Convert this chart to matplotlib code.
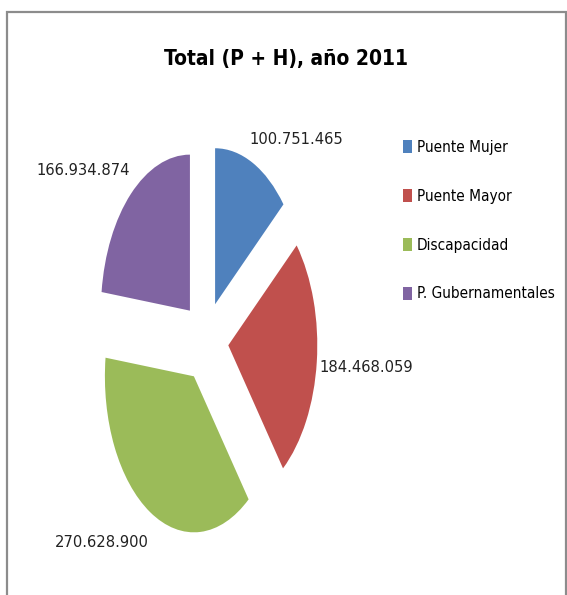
import matplotlib
matplotlib.use("Agg")
import matplotlib.pyplot as plt
from matplotlib import font_manager as fm
from matplotlib.font_manager import FontProperties
from matplotlib.patches import Rectangle

# data
categories = ["Puente Mujer", "Puente Mayor", "Discapacidad", "P. Gubernamentales"]
values = [100751465, 184468059, 270628900, 166934874]
colors = ["#4F81BD", "#C0504D", "#9BBB59", "#8064A2"]
title = "Total (P + H), año 2011"

# label spots in pie data units (x, y)
label_pos = [(1.02, 1.29), (1.81, -0.17), (-1.16, -1.29), (-1.37, 1.09)]


def fmt(v):
    return f"{v:,}".replace(",", ".")


def narrow_font(bold):
    # look for an installed condensed sans face, Calibri-ish look
    best = None
    for f in fm.fontManager.ttflist:
        n = f.name
        cond = f.stretch not in ("normal", 500) or any(k in n for k in ("Narrow", "Condensed", "Cond"))
        if not cond or "Mono" in n or "Serif" in n or "CJK" in n or f.style != "normal":
            continue
        w = f.weight if isinstance(f.weight, (int, float)) else fm.weight_dict.get(f.weight, 400)
        if bold and w < 600:
            continue
        if not bold and not (350 <= w <= 550):
            continue
        score = abs(w - (700 if bold else 400))
        if best is None or score < best[0]:
            best = (score, f.fname)
    if best:
        return FontProperties(fname=best[1])
    return FontProperties(family=["Liberation Sans", "DejaVu Sans"],
                          weight="bold" if bold else "normal")


fig = plt.figure(figsize=(5.67, 5.95), dpi=100)
renderer = fig.canvas.get_renderer()


def fit_size(prop, sample, width_px, base=12):
    t = fig.text(0, 0, sample, fontproperties=prop, fontsize=base)
    w = t.get_window_extent(renderer).width
    t.remove()
    return base * width_px / w


reg = narrow_font(False)
bold = narrow_font(True)
# reference glyphs are narrower than any installed face: trade some width for height
label_fs = fit_size(reg, "100.751.465", 81) * 1.15
legend_fs = fit_size(reg, "P. Gubernamentales", 128) * 1.07
title_fs = fit_size(bold, title, 200) * 1.22

# chart frame
fig.patches.append(Rectangle((7 / 567, -0.05), 559 / 567, 1.05 - 12 / 595,
                             transform=fig.transFigure, fill=False,
                             edgecolor="#8c8c8c", linewidth=1.6))

ax = fig.add_axes([0.1266, 0.0336, 0.4709, 0.7866])
wedges, _ = ax.pie(values, colors=colors, startangle=90, counterclock=False,
                   explode=[0.26] * len(values))
ax.set_aspect("auto")
ax.set_xlim(-1.5, 1.5)
ax.set_ylim(-1.5, 1.5)

for v, (x, y) in zip(values, label_pos):
    ax.text(x, y, fmt(v), ha="center", va="center", fontproperties=reg,
            fontsize=label_fs, color="#222222")

fig.text(0.5044, 0.901, title, ha="center", va="center", fontproperties=bold,
         fontsize=title_fs, color="black")

fs_px = legend_fs * 100 / 72
leg_prop = reg.copy()
leg_prop.set_size(legend_fs)
fig.legend(wedges, categories, loc="upper left",
           bbox_to_anchor=(403 / 567, 1 - (147 - 0.45 * fs_px) / 595),
           frameon=False, prop=leg_prop, handlelength=9 / fs_px,
           handleheight=14 / fs_px, handletextpad=5 / fs_px,
           labelspacing=(49 - 1.0 * fs_px) / fs_px, borderpad=0, borderaxespad=0)

plt.savefig("out.png", dpi=100)
